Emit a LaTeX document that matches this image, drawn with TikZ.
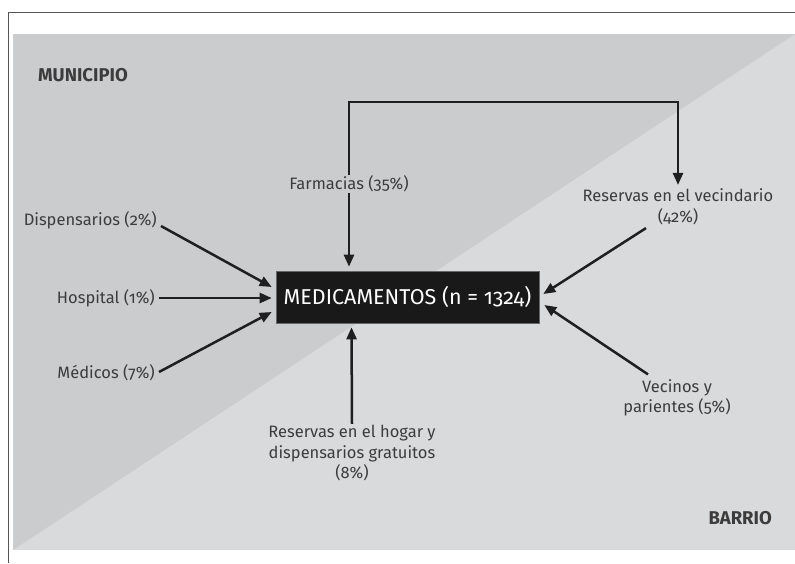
\documentclass[tikz,border=0pt]{standalone}
\usepackage{fontspec}
\setmainfont{Fira Sans}[Numbers=OldStyle]
\usetikzlibrary{arrows.meta}
\definecolor{zonedark}{HTML}{CBCCCE}
\definecolor{zonelight}{HTML}{D9DADC}
\definecolor{labelgray}{HTML}{3C3C3C}
\definecolor{framegray}{HTML}{555555}
\begin{document}
\begin{tikzpicture}[x=1pt,y=-1pt,
  lbl/.style={font=\fontsize{16.5}{20.5}\selectfont, text=labelgray, inner sep=1pt, align=center},
  zone/.style={font=\bfseries\fontsize{18.5}{22}\selectfont, text=labelgray, inner sep=0pt},
  hub/.style={fill=black!90, draw=black!60, line width=0.6pt, text=white,
    minimum width=263pt, minimum height=52pt, inner sep=0pt,
    font=\fontsize{21.5}{25}\selectfont},
  arr/.style={line width=2.5pt, draw=black!88,
    -{Triangle[length=12pt,width=10pt]}}]
\useasboundingbox (0,0) rectangle (795,563);
% outer frame lines
\draw[framegray, line width=1pt] (8,563) -- (8,12) -- (795,12);
% two zones split along the diagonal
\fill[zonelight] (13,34) rectangle (795,550);
\fill[zonedark] (13,34) -- (795,34) -- (13,550) -- cycle;

\node[zone, anchor=west] (muni) at (38,75) {MUNICIPIO};
\node[zone, anchor=east] (barrio) at (772,518) {BARRIO};

\node[hub] (box) at (407.5,297) {MEDICAMENTOS (n = 1324)};

\node[lbl] (farm) at (349,184) {Farmacias (35\%)};
\node[lbl] (vecind) at (678,207) {Reservas en el vecindario\\(42\%)};
\node[lbl] (vecinos) at (677,398) {Vecinos y\\parientes (5\%)};
\node[lbl] (hogar) at (352,453) {Reservas en el hogar y\\dispensarios gratuitos\\(8\%)};
\node[lbl, anchor=east] (disp) at (158,220) {Dispensarios (2\%)};
\node[lbl, anchor=east] (hosp) at (156,298) {Hospital (1\%)};
\node[lbl, anchor=east] (medic) at (156,373) {Médicos (7\%)};

\coordinate (topbar) at (0,102);

% inflows to the hub
\draw[arr] ([xshift=3pt,yshift=-6pt]disp.east) -- ([xshift=-4pt,yshift=10pt]box.west);
\draw[arr] ([xshift=3pt]hosp.east) -- ([xshift=-4pt,yshift=-1pt]box.west);
\draw[arr] ([xshift=3pt,yshift=1pt]medic.east) -- ([xshift=-4pt,yshift=-15pt]box.west);
\draw[arr] (farm.south) -- ([xshift=-58.5pt,yshift=4pt]box.north);
\draw[arr] (hogar.north) -- ([xshift=-56pt,yshift=-4pt]box.south);
\draw[arr] ([xshift=-32pt,yshift=-2pt]vecind.south) -- ([xshift=4pt,yshift=3pt]box.east);
\draw[arr] ([xshift=-29pt,yshift=4pt]vecinos.north) -- ([xshift=5pt,yshift=-8pt]box.east);
% pharmacies feeding the neighbourhood stocks
\draw[arr] (farm.north) -- (farm.north |- topbar) -- (vecind.north |- topbar) -- ([yshift=3pt]vecind.north);
\end{tikzpicture}
\end{document}
